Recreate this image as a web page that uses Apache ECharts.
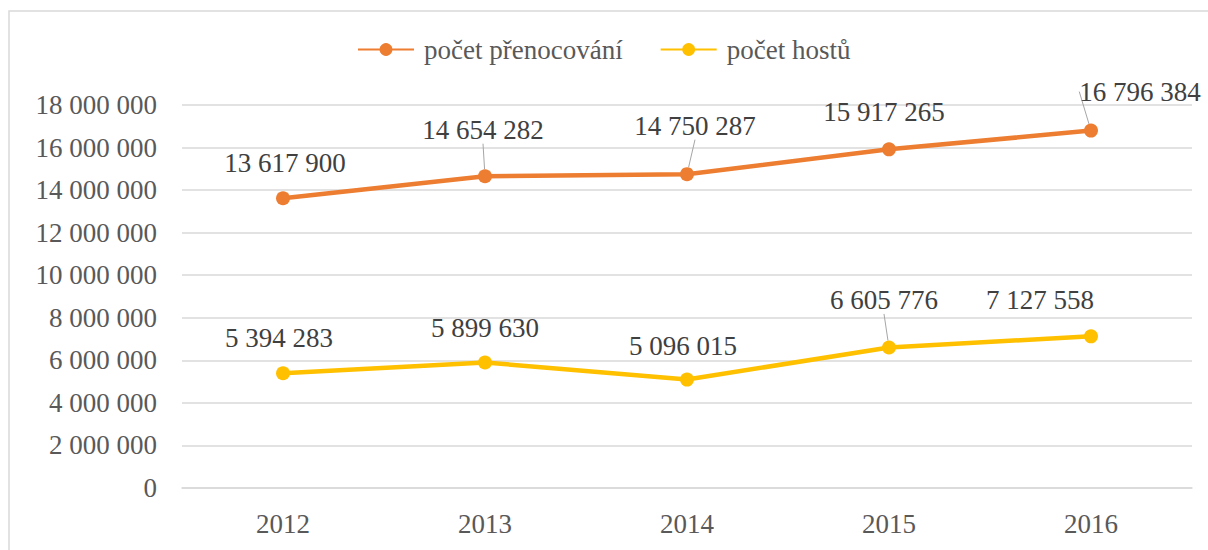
<!DOCTYPE html>
<html>
<head>
<meta charset="utf-8">
<script src="https://cdn.jsdelivr.net/npm/echarts@6/dist/echarts.min.js"></script>
<style>
  html, body { margin: 0; padding: 0; background: #fff; }
  #chart { width: 1208px; height: 550px; }
</style>
</head>
<body>
<div id="chart"></div>
<script>
var years = ['2012', '2013', '2014', '2015', '2016'];
var prenocovani = [13617900, 14654282, 14750287, 15917265, 16796384];
var hoste = [5394283, 5899630, 5096015, 6605776, 7127558];
var yTicks = { min: 0, max: 18000000, interval: 2000000 };

// label offsets (label centre relative to point)
var offPren = [[2, -35], [-2, -46], [8, -48], [-5, -37], [49, -39]];
var offHoste = [[-4, -35], [0, -34], [-4, -34], [-5, -47], [-51, -36]];
var leaderPren = [false, true, true, false, true];
var leaderHoste = [false, false, false, true, false];

var font = 'Liberation Serif';
var textColor = '#595959';
var rule = '#d9d9d9';
var orange = '#ED7D31';
var yellow = '#FFC000';
var symSize = 14;
var labelSize = 27;
// 'top' labels already sit half a symbol + half a line above the point
var topShift = symSize / 2 + labelSize / 2;

function fmt(v) {
  return String(v).replace(/\B(?=(\d{3})+(?!\d))/g, ' ');
}

function lineSeries(name, values, leaders, offsets, color) {
  return {
    name: name,
    type: 'line',
    data: values.map(function(v, i) {
      return { value: v, labelLine: { show: leaders[i] } };
    }),
    symbol: 'circle',
    symbolSize: symSize,
    lineStyle: { color: color, width: 4.5 },
    itemStyle: { color: color },
    label: {
      show: true,
      position: 'top',
      distance: 0,
      color: '#404040',
      fontSize: labelSize,
      fontFamily: font,
      formatter: function(p) { return fmt(p.value); }
    },
    labelLine: { lineStyle: { color: '#a6a6a6', width: 1 } },
    labelLayout: function(p) {
      return { dx: offsets[p.dataIndex][0], dy: offsets[p.dataIndex][1] + topShift };
    }
  };
}

var chart = echarts.init(document.getElementById('chart'), null, { renderer: 'svg' });
chart.setOption({
  animation: false,
  textStyle: { fontFamily: font },
  graphic: [{
    type: 'rect',
    shape: { x: 9, y: 11, width: 1215, height: 560 },
    style: { fill: 'none', stroke: rule, lineWidth: 1.5 },
    silent: true
  }],
  legend: {
    left: 352,
    top: 31,
    itemWidth: 56,
    itemHeight: 16,
    itemGap: 37,
    textStyle: { color: textColor, fontSize: 27, fontFamily: font, padding: [0, 0, 0, 5] },
    data: ['počet přenocování', 'počet hostů']
  },
  grid: { left: 182, right: 16, top: 105, bottom: 62 },
  xAxis: {
    type: 'category',
    data: years,
    axisLine: { lineStyle: { color: rule, width: 1.5 } },
    axisTick: { show: false },
    axisLabel: { color: textColor, fontSize: 27, fontFamily: font, margin: 22 }
  },
  yAxis: {
    type: 'value',
    min: yTicks.min,
    max: yTicks.max,
    interval: yTicks.interval,
    axisLine: { show: false },
    axisTick: { show: false },
    axisLabel: { color: textColor, fontSize: 27, fontFamily: font, margin: 25, formatter: fmt },
    splitLine: { lineStyle: { color: rule, width: 1.5 } }
  },
  series: [
    lineSeries('počet přenocování', prenocovani, leaderPren, offPren, orange),
    lineSeries('počet hostů', hoste, leaderHoste, offHoste, yellow)
  ]
});
</script>
</body>
</html>
